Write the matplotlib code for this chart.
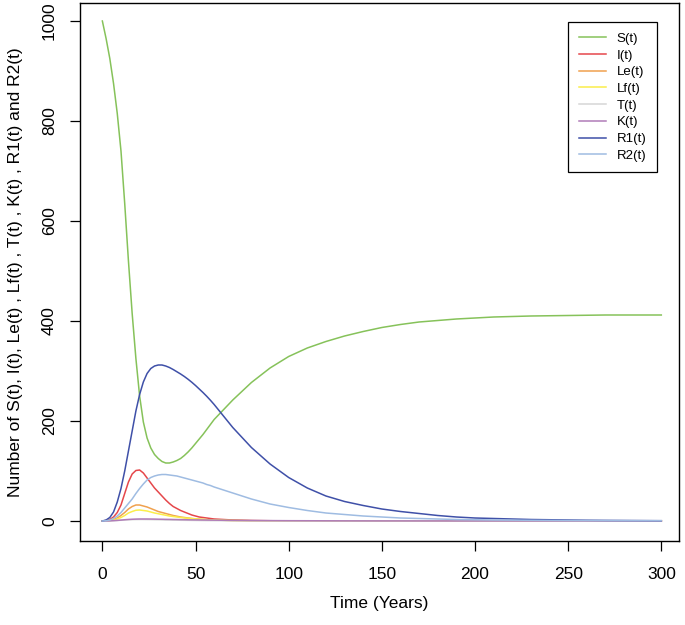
import numpy as np
import matplotlib
matplotlib.use("Agg")
import matplotlib.pyplot as plt

plt.rcParams['font.family'] = ['Liberation Sans', 'DejaVu Sans']

# Time points (years)
t = [0, 2, 4, 6, 8, 10, 12, 14, 16, 18, 20, 22, 24, 26, 28, 30, 32, 34, 36, 38,
     40, 42, 44, 46, 48, 50, 52, 54, 56, 58, 60, 70, 80, 90, 100, 110, 120, 130,
     140, 150, 160, 170, 180, 190, 200, 210, 220, 230, 240, 250, 260, 270, 280,
     290, 300]

S = [1000, 965, 925, 875, 815, 740, 635, 520, 415, 325, 250, 198, 166, 146, 133,
     125, 119, 116, 116, 118, 121, 125, 131, 138, 146, 155, 164, 173, 183, 193,
     203, 242, 277, 306, 329, 346, 359, 370, 379, 387, 393, 398, 401, 404, 406,
     408, 409, 410, 410.5, 411, 411.5, 412, 412, 412, 412]

I = [0, 1, 3, 8, 17, 32, 55, 78, 94, 101, 102, 96, 86, 76, 66, 58, 50, 42, 35,
     29, 25, 21, 18, 15, 12, 10, 8, 7, 6, 5, 4, 2, 1, 0.5, 0.3, 0.2, 0.1, 0.1,
     0, 0, 0, 0, 0, 0, 0, 0, 0, 0, 0, 0, 0, 0, 0, 0, 0]

Le = [0, 0.3, 1, 3, 6, 11, 17, 24, 29, 32, 32, 30, 28, 25, 22, 19, 17, 15, 13,
      11, 9.5, 8, 7, 6, 5, 4.3, 3.7, 3.1, 2.6, 2.2, 1.9, 0.9, 0.4, 0.2, 0.1,
      0.05, 0, 0, 0, 0, 0, 0, 0, 0, 0, 0, 0, 0, 0, 0, 0, 0, 0, 0, 0]

Lf = [0, 0.2, 0.7, 2, 4, 7, 11, 16, 19, 21.5, 22, 21, 20, 18, 16, 14.5, 13,
      11.5, 10, 9, 8, 7, 6.2, 5.5, 4.8, 4.2, 3.6, 3.1, 2.7, 2.3, 2, 1, 0.5,
      0.25, 0.1, 0.05, 0, 0, 0, 0, 0, 0, 0, 0, 0, 0, 0, 0, 0, 0, 0, 0, 0, 0, 0]

T = [0, 0.1, 0.3, 0.6, 1, 1.5, 2, 2.4, 2.7, 2.9, 3, 3, 2.9, 2.8, 2.6, 2.5, 2.3,
     2.1, 2, 1.8, 1.7, 1.5, 1.4, 1.3, 1.2, 1.1, 1, 0.9, 0.8, 0.75, 0.7, 0.4,
     0.2, 0.1, 0.05, 0, 0, 0, 0, 0, 0, 0, 0, 0, 0, 0, 0, 0, 0, 0, 0, 0, 0, 0, 0]

K = [0, 0.1, 0.3, 0.7, 1.2, 1.8, 2.5, 3.1, 3.5, 3.8, 4, 4, 4, 3.9, 3.8, 3.6,
     3.5, 3.3, 3.2, 3, 2.9, 2.7, 2.6, 2.4, 2.3, 2.2, 2.1, 2, 1.9, 1.8, 1.7, 1.3,
     1, 0.8, 0.6, 0.5, 0.4, 0.3, 0.25, 0.2, 0.2, 0.15, 0.15, 0.1, 0.1, 0.1, 0.1,
     0.1, 0.1, 0.1, 0.1, 0.1, 0.1, 0.1, 0.1]

R1 = [0, 2, 7, 18, 38, 65, 100, 140, 180, 220, 253, 278, 295, 305, 310, 312,
      312, 310, 307, 303, 298.5, 294, 289, 283.5, 277.5, 271, 264, 257, 249.5,
      241.5, 233, 187, 147, 114, 87, 66, 50, 39, 31, 24, 19, 15, 11, 8, 6, 5, 4,
      3, 2.5, 2, 1.5, 1.2, 1, 0.8, 0.6]

R2 = [0, 0.5, 2, 5, 10, 17, 26, 35, 44, 55, 65, 74, 82, 87, 90, 92, 93, 93, 92,
      91, 90, 88, 86, 84, 82, 80, 78, 76, 73, 71, 68, 56, 44, 34, 27, 21, 16,
      13, 10, 8, 6, 5, 4, 3, 2.5, 2, 1.7, 1.4, 1.2, 1, 0.9, 0.8, 0.7, 0.65, 0.6]

series_names = ["S(t)", "I(t)", "Le(t)", "Lf(t)", "T(t)", "K(t)", "R1(t)", "R2(t)"]
series_data = [S, I, Le, Lf, T, K, R1, R2]
series_colors = ["#86c25a", "#e5474b", "#f0a14e", "#fbee4a", "#d6d6d6",
                 "#b07cb8", "#3f50a8", "#9fbce2"]

x_ticks = [0, 50, 100, 150, 200, 250, 300]
y_ticks = [0, 200, 400, 600, 800, 1000]

W, H = 685, 625
fig = plt.figure(figsize=(W / 100, H / 100), dpi=100)
ax = fig.add_axes([80 / W, (H - 541) / H, (679 - 80) / W, (541 - 3) / H])

for name, data, col in zip(series_names, series_data, series_colors):
    ax.plot(t, data, color=col, lw=1.1, label=name)

ax.set_xlim(-12, 309.5)
ax.set_ylim(-40, 1036)
ax.set_xticks(x_ticks)
ax.set_yticks(y_ticks)
ax.set_xticklabels([str(v) for v in x_ticks], fontsize=12.5)
ax.set_yticklabels([str(v) for v in y_ticks], fontsize=12.5, rotation=90, va='center')
ax.tick_params(axis='both', direction='out', length=7.5, width=0.9, color='black')
ax.tick_params(axis='x', pad=11)
ax.tick_params(axis='y', pad=9)
for sp in ax.spines.values():
    sp.set_linewidth(1.0)
    sp.set_color('black')

ax.set_xlabel("Time (Years)", fontsize=12.5, labelpad=10)
ax.set_ylabel("Number of S(t), I(t), Le(t) , Lf(t) , T(t) , K(t) , R1(t) and R2(t)",
              fontsize=12.5, labelpad=14)

leg = ax.legend(loc='upper left', bbox_to_anchor=(568 / W, (H - 22) / H),
                bbox_transform=fig.transFigure, fontsize=9.5, frameon=True,
                fancybox=False, edgecolor='black', framealpha=1,
                handlelength=2.05, handletextpad=0.85, borderpad=0.8,
                labelspacing=0.34, borderaxespad=0)
leg.get_frame().set_linewidth(0.9)

fig.savefig("out.png", dpi=100)
